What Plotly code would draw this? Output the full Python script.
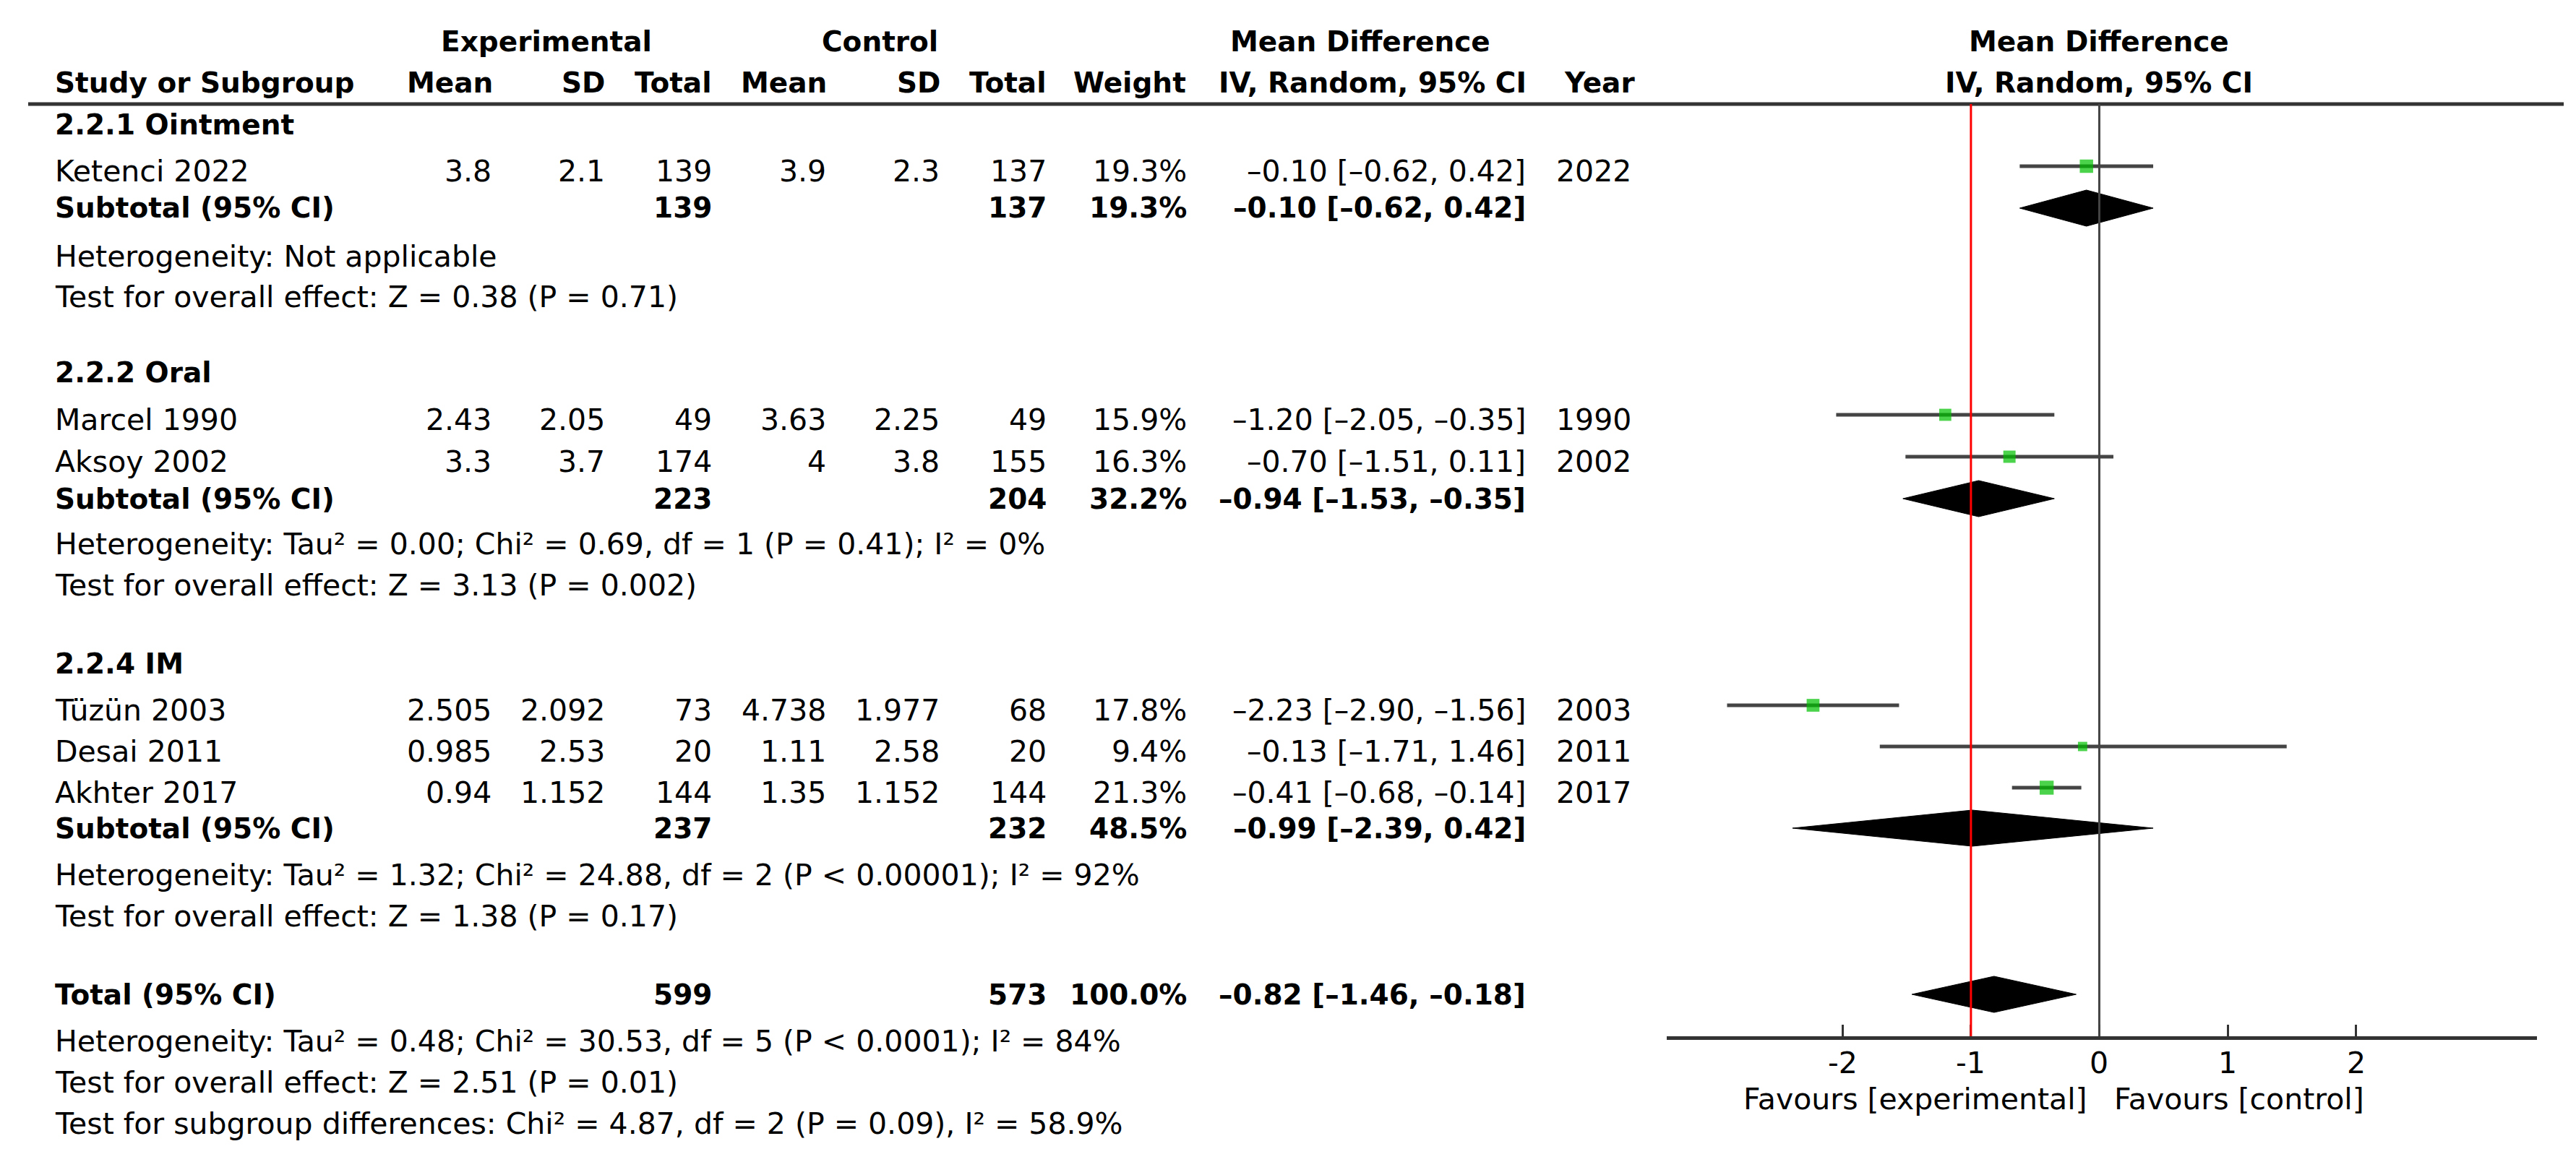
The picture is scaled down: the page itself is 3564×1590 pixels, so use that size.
import numpy as np
import plotly.graph_objects as go

# ---------------- data ----------------
studies = ["Ketenci 2022", "Marcel 1990", "Aksoy 2002", "Tüzün 2003", "Desai 2011", "Akhter 2017"]
exp_mean = ["3.8", "2.43", "3.3", "2.505", "0.985", "0.94"]
exp_sd = ["2.1", "2.05", "3.7", "2.092", "2.53", "1.152"]
exp_n = [139, 49, 174, 73, 20, 144]
ctl_mean = ["3.9", "3.63", "4", "4.738", "1.11", "1.35"]
ctl_sd = ["2.3", "2.25", "3.8", "1.977", "2.58", "1.152"]
ctl_n = [137, 49, 155, 68, 20, 144]
weight = [19.3, 15.9, 16.3, 17.8, 9.4, 21.3]
md = [-0.10, -1.20, -0.70, -2.23, -0.13, -0.41]
md_lo = [-0.62, -2.05, -1.51, -2.90, -1.71, -0.68]
md_hi = [0.42, -0.35, 0.11, -1.56, 1.46, -0.14]
year = [2022, 1990, 2002, 2003, 2011, 2017]

groups = ["2.2.1 Ointment", "2.2.2 Oral", "2.2.4 IM"]
grp_exp_n = [139, 223, 237]
grp_ctl_n = [137, 204, 232]
grp_weight = [19.3, 32.2, 48.5]
grp_md = [-0.10, -0.94, -0.99]
grp_lo = [-0.62, -1.53, -2.39]
grp_hi = [0.42, -0.35, 0.42]
grp_het = [
    "Heterogeneity: Not applicable",
    "Heterogeneity: Tau² = 0.00; Chi² = 0.69, df = 1 (P = 0.41); I² = 0%",
    "Heterogeneity: Tau² = 1.32; Chi² = 24.88, df = 2 (P &lt; 0.00001); I² = 92%",
]
grp_test = [
    "Test for overall effect: Z = 0.38 (P = 0.71)",
    "Test for overall effect: Z = 3.13 (P = 0.002)",
    "Test for overall effect: Z = 1.38 (P = 0.17)",
]

tot_exp_n = 599
tot_ctl_n = 573
tot_weight = 100.0
tot_md = -0.82
tot_lo = -1.46
tot_hi = -0.18
tot_notes = [
    "Heterogeneity: Tau² = 0.48; Chi² = 30.53, df = 5 (P &lt; 0.0001); I² = 84%",
    "Test for overall effect: Z = 2.51 (P = 0.01)",
    "Test for subgroup differences: Chi² = 4.87, df = 2 (P = 0.09), I² = 58.9%",
]
tick_vals = [-2, -1, 0, 1, 2]
tick_text = ["-2", "-1", "0", "1", "2"]
ref_line = -1

# ---------------- layout (pixel positions) ----------------
W, H = 3564, 1590
Y_TOP, Y_AXIS = 136, 1426
X_AX0, X_AX1 = 2298, 3502
XR = [-3.37, 3.41]

grp_head_y = [165, 508, 910]
study_y = [222, 566, 624, 968, 1025, 1082]
TXT_OFF = 7
sub_y = [280, 682, 1138]
het_y = [347, 745, 1203]
test_y = [403, 802, 1260]
tot_y = 1368
tot_note_y = [1433, 1490, 1547]
DIAM_H = 25
TICK_LBL_Y = 1463
FAV_Y = 1513

X_LEFT = 68
COL = dict(em=672, esd=829, en=977, cm=1135, csd=1292, cn=1440, w=1634, ci=2103, yr=2249)

FONT = "DejaVu Sans"
FS = 41
FSB = 39


def fnum(v):
    return f"{v:.2f}".replace("-", "\u2013")


def ci_txt(m, l, h):
    return f"{fnum(m)} [{fnum(l)}, {fnum(h)}]"


annotations = []


def py(ypx):
    return 1 - ypx / H


def txt(xpx, ypx, s, anchor="left", bold=False, size=None):
    annotations.append(dict(
        x=xpx / W, xref="paper", y=py(ypx), yref="paper", text=(f"<b>{s}</b>" if bold else s),
        xanchor=anchor, yanchor="middle", showarrow=False, borderpad=0, borderwidth=0,
        font=dict(family=FONT, size=size or (FSB if bold else FS), color="black"),
    ))


# headers
txt(748, 50, "Experimental", "center", True)
txt(1209, 50, "Control", "center", True)
txt(1874, 50, "Mean Difference", "center", True)
txt(2896, 50, "Mean Difference", "center", True)
txt(X_LEFT, 107, "Study or Subgroup", "left", True)
txt(674, 107, "Mean", "right", True)
txt(829, 107, "SD", "right", True)
txt(977, 107, "Total", "right", True)
txt(1136, 107, "Mean", "right", True)
txt(1293, 107, "SD", "right", True)
txt(1440, 107, "Total", "right", True)
txt(1633, 107, "Weight", "right", True)
txt(2104, 107, "IV, Random, 95% CI", "right", True)
txt(2254, 107, "Year", "right", True)
txt(2896, 107, "IV, Random, 95% CI", "center", True)

# group headings, subtotals, notes
for g in range(len(groups)):
    txt(X_LEFT, grp_head_y[g], groups[g], "left", True)
    txt(X_LEFT, sub_y[g], "Subtotal (95% CI)", "left", True)
    txt(COL["en"], sub_y[g], str(grp_exp_n[g]), "right", True)
    txt(COL["cn"], sub_y[g], str(grp_ctl_n[g]), "right", True)
    txt(COL["w"], sub_y[g], f"{grp_weight[g]:.1f}%", "right", True)
    txt(COL["ci"], sub_y[g], ci_txt(grp_md[g], grp_lo[g], grp_hi[g]), "right", True)
    txt(X_LEFT, het_y[g], grp_het[g], "left")
    txt(X_LEFT, test_y[g], grp_test[g], "left")

# study rows
for i in range(len(studies)):
    yt = study_y[i] + TXT_OFF
    txt(X_LEFT, yt, studies[i], "left")
    txt(COL["em"], yt, exp_mean[i], "right")
    txt(COL["esd"], yt, exp_sd[i], "right")
    txt(COL["en"], yt, str(exp_n[i]), "right")
    txt(COL["cm"], yt, ctl_mean[i], "right")
    txt(COL["csd"], yt, ctl_sd[i], "right")
    txt(COL["cn"], yt, str(ctl_n[i]), "right")
    txt(COL["w"], yt, f"{weight[i]:.1f}%", "right")
    txt(COL["ci"], yt, ci_txt(md[i], md_lo[i], md_hi[i]), "right")
    txt(COL["yr"], yt, str(year[i]), "right")

# total
txt(X_LEFT, tot_y, "Total (95% CI)", "left", True)
txt(COL["en"], tot_y, str(tot_exp_n), "right", True)
txt(COL["cn"], tot_y, str(tot_ctl_n), "right", True)
txt(COL["w"], tot_y, f"{tot_weight:.1f}%", "right", True)
txt(COL["ci"], tot_y, ci_txt(tot_md, tot_lo, tot_hi), "right", True)
for s, yy in zip(tot_notes, tot_note_y):
    txt(X_LEFT, yy, s, "left")

# favours labels
txt(2642, FAV_Y, "Favours [experimental]", "center")
txt(3090, FAV_Y, "Favours [control]", "center")

# tick labels placed through the x axis scale
for tv, tt in zip(tick_vals, tick_text):
    annotations.append(dict(
        x=tv, xref="x", y=py(TICK_LBL_Y), yref="paper", text=tt, xanchor="center", yanchor="middle",
        showarrow=False, borderpad=0, borderwidth=0,
        font=dict(family=FONT, size=FS, color="black"),
    ))

# ---------------- traces ----------------
fig = go.Figure()

# diamonds (subtotals and total)
dx, dy = [], []
for m, l, h, yy in list(zip(grp_md, grp_lo, grp_hi, sub_y)) + [(tot_md, tot_lo, tot_hi, tot_y)]:
    dx += [l, m, h, m, l, None]
    dy += [yy, yy - DIAM_H, yy, yy + DIAM_H, yy, None]
fig.add_trace(go.Scatter(x=dx, y=dy, mode="lines", fill="toself", fillcolor="black",
                         line=dict(color="black", width=1), hoverinfo="skip", showlegend=False))

# study CIs + squares
md_a = np.array(md)
fig.add_trace(go.Scatter(
    x=md, y=study_y, mode="markers",
    marker=dict(symbol="square", size=4.2 * np.sqrt(np.array(weight)), color="#00c000", line=dict(width=0)),
    error_x=dict(type="data", symmetric=False, array=np.array(md_hi) - md_a, arrayminus=md_a - np.array(md_lo),
                 thickness=5, width=0, color="#444444"),
    showlegend=False, hoverinfo="skip",
))

shapes = [
    dict(type="line", xref="paper", yref="paper", x0=31 / W, x1=3539 / W, y0=py(Y_TOP), y1=py(Y_TOP),
         line=dict(color="#333333", width=5)),
    dict(type="line", xref="x", yref="y", x0=ref_line, x1=ref_line, y0=Y_TOP, y1=Y_AXIS,
         line=dict(color="#ff0000", width=3)),
    dict(type="line", xref="x", yref="y", x0=0, x1=0, y0=Y_TOP, y1=Y_AXIS,
         line=dict(color="#444444", width=3)),
]

fig.update_layout(
    width=W, height=H, margin=dict(l=0, r=0, t=0, b=0),
    paper_bgcolor="white", plot_bgcolor="white",
    shapes=shapes, annotations=annotations,
    xaxis=dict(domain=[X_AX0 / W, X_AX1 / W], range=XR, showgrid=False, zeroline=False,
               showline=True, linecolor="#333333", linewidth=5,
               ticks="inside", ticklen=16, tickwidth=3, tickcolor="#333333",
               tickvals=tick_vals, showticklabels=False, fixedrange=True),
    yaxis=dict(domain=[1 - Y_AXIS / H, 1 - Y_TOP / H], range=[Y_AXIS, Y_TOP], visible=False,
               showgrid=False, zeroline=False, fixedrange=True),
    font=dict(family=FONT, size=FS, color="black"),
)

fig.write_html("out.html")
